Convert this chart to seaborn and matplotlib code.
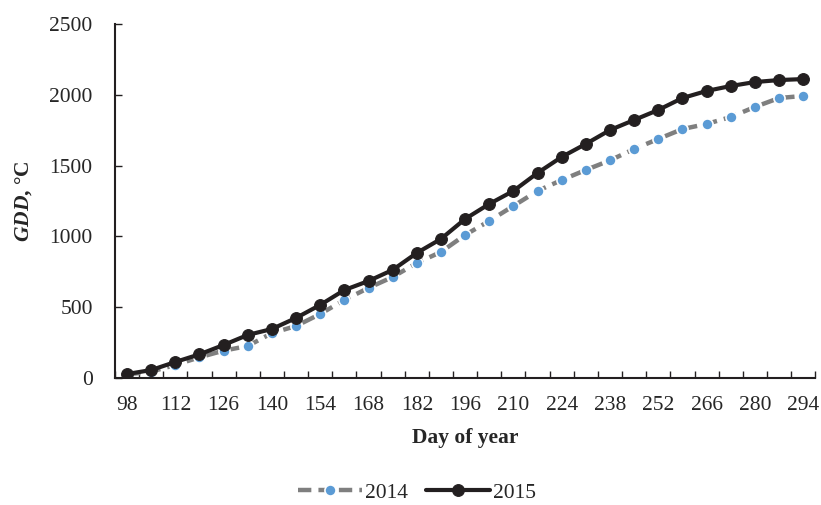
import numpy as np
import pandas as pd
import matplotlib
matplotlib.use("Agg")
import matplotlib.pyplot as plt
import seaborn as sns

# Day of year for each weekly observation
days = [98, 105, 112, 119, 126, 133, 140, 147, 154, 161, 168, 175, 182, 189, 196,
        203, 210, 217, 224, 231, 238, 245, 252, 259, 266, 273, 280, 287, 294]

# Accumulated growing degree days, °C
gdd_2014 = [25, 45, 92, 146, 193, 226, 317, 367, 452, 551, 636, 713, 812, 890, 1010,
            1109, 1215, 1321, 1398, 1469, 1537, 1617, 1688, 1758, 1794, 1843, 1914, 1977, 1992]
gdd_2015 = [28, 56, 113, 167, 233, 304, 346, 424, 516, 621, 685, 763, 883, 982, 1123,
            1229, 1321, 1448, 1561, 1653, 1751, 1822, 1893, 1977, 2027, 2062, 2090, 2104, 2111]

y_ticks = [0, 500, 1000, 1500, 2000, 2500]

sns.set_theme(style="ticks")
plt.rcParams["font.family"] = ["Liberation Serif", "DejaVu Serif"]
plt.rcParams["mathtext.fontset"] = "custom"
plt.rcParams["mathtext.bfit"] = "Liberation Serif:bold:italic"

FS = 15.5
idx = np.arange(len(days))
df = pd.DataFrame({"idx": idx, "2014": gdd_2014, "2015": gdd_2015})

fig = plt.figure(figsize=(8.21, 5.05), dpi=100)
ax = fig.add_axes([0.140, 0.2515, 0.853, 0.701])

sns.lineplot(data=df, x="idx", y="2014", ax=ax, color="#7f7f7f", linewidth=3.2,
             dashes=False, linestyle=(0, (3.0, 1.6)), marker="o", markersize=8,
             markerfacecolor="#5b9bd5", markeredgecolor="white", markeredgewidth=1.2,
             label="2014")
sns.lineplot(data=df, x="idx", y="2015", ax=ax, color="#231f20", linewidth=3.0,
             marker="o", markersize=8.5, markerfacecolor="#231f20",
             markeredgecolor="#231f20", label="2015")

ax.set_xlim(-0.5, len(days) - 0.5)
ax.set_ylim(0, 2500)
ax.set_yticks(y_ticks)
ax.set_yticklabels([str(v) for v in y_ticks], fontsize=FS)

# category-style axis: labels every other week, tick marks between categories
ax.set_xticks(idx[::2])
ax.set_xticklabels([str(d) for d in days[::2]], fontsize=FS)
ax.set_xticks(np.arange(-0.5, len(days), 1.0), minor=True)
ax.tick_params(axis="x", which="major", length=0, pad=13)
ax.tick_params(axis="x", which="minor", direction="in", length=5, width=1, color="#231f20")
ax.tick_params(axis="y", which="major", direction="in", length=5, width=1,
               color="#231f20", pad=16)

for side in ["top", "right"]:
    ax.spines[side].set_visible(False)
for side in ["left", "bottom"]:
    ax.spines[side].set_color("#231f20")
    ax.spines[side].set_linewidth(1.5)

ax.set_xlabel("Day of year", fontsize=FS, fontweight="bold", labelpad=9)
ax.set_ylabel(r"$\mathbfit{GDD}$, °C", fontsize=FS, fontweight="bold", labelpad=11)

handles, labels = ax.get_legend_handles_labels()
if ax.get_legend():
    ax.get_legend().remove()
fig.legend(handles, labels, loc="center", bbox_to_anchor=(0.508, 0.024), ncol=2,
           frameon=False, fontsize=FS, handlelength=3.0, columnspacing=0.8,
           handletextpad=0.15, borderpad=0.2)

fig.savefig("out.png", dpi=100)
